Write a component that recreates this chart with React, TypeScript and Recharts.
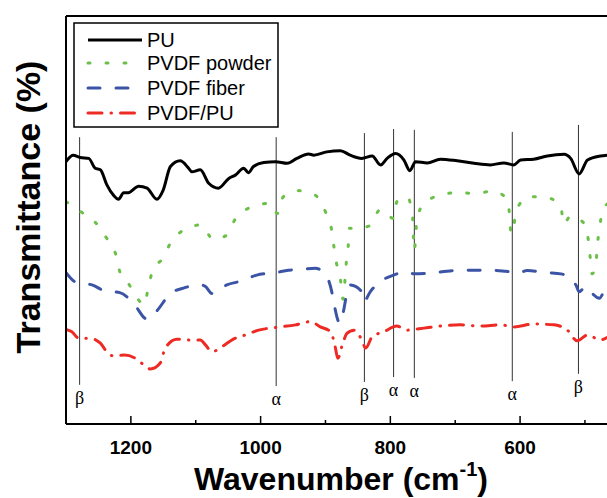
import React from 'react'
import { LineChart, Line, XAxis, YAxis, ReferenceLine, Legend } from 'recharts'

// wavenumber (cm-1) / transmittance (offset, a.u.) per sample
const puWn = [1300, 1289, 1278, 1265, 1255, 1247, 1237, 1227, 1219, 1211, 1204, 1188, 1175, 1160, 1150, 1139, 1124, 1111, 1106, 1093, 1080, 1065, 1049, 1039, 1026, 1019, 1011, 995, 977, 959, 944, 926, 918, 898, 877, 862, 844, 828, 815, 805, 792, 779, 770, 761, 743, 723, 697, 671, 646, 625, 610, 599, 579, 558, 532, 522, 509, 496, 476, 466]
const puT = [64.3, 65.9, 65.3, 65.1, 62.7, 62.3, 58.6, 56.1, 55.1, 56.7, 56.7, 58.3, 57.8, 55.1, 57.4, 63.1, 64.5, 62.7, 61.8, 62.3, 59.0, 57.8, 60.2, 61.0, 62.7, 61.6, 63.1, 64.1, 64.3, 63.9, 65.1, 66.2, 65.9, 66.7, 67.0, 65.9, 65.1, 65.7, 63.5, 65.1, 66.3, 64.7, 62.1, 64.3, 64.0, 64.9, 64.5, 63.9, 63.5, 64.0, 63.5, 64.7, 64.9, 65.7, 66.1, 65.1, 61.3, 64.7, 65.7, 65.9]

const powderWn = [1300, 1277, 1257, 1238, 1223, 1217, 1204, 1190, 1179, 1173, 1166, 1151, 1139, 1119, 1092, 1073, 1054, 1039, 1012, 985, 974, 965, 941, 916, 900, 891, 887, 883, 877, 873, 868, 865, 863, 851, 833, 815, 795, 790, 774, 766, 763, 759, 749, 723, 697, 669, 642, 620, 616, 614, 610, 607, 586, 559, 537, 533, 522, 502, 495, 492, 489, 483, 481, 478, 473, 466]
const powderT = [54.5, 52.0, 49.8, 45.7, 41.4, 37.3, 34.5, 30.8, 29.2, 33.7, 37.7, 40.6, 44.3, 47.5, 48.8, 45.3, 46.1, 50.2, 53.3, 54.1, 51.6, 55.7, 57.2, 56.1, 52.0, 48.0, 43.5, 39.4, 35.5, 30.6, 39.4, 43.5, 48.0, 48.0, 48.5, 52.6, 50.4, 54.5, 55.7, 51.2, 42.6, 50.0, 53.9, 56.1, 56.7, 56.5, 57.1, 55.1, 50.8, 46.7, 47.5, 52.0, 55.7, 55.5, 53.2, 49.0, 51.0, 49.3, 45.3, 41.0, 36.8, 39.2, 43.5, 47.5, 52.0, 53.9]

const fiberWn = [1300, 1283, 1260, 1240, 1217, 1196, 1175, 1168, 1158, 1139, 1119, 1093, 1085, 1075, 1052, 1031, 1006, 977, 957, 936, 916, 898, 890, 886, 878, 873, 867, 862, 846, 841, 831, 818, 795, 774, 764, 743, 702, 651, 615, 604, 589, 558, 537, 514, 509, 499, 488, 478, 471, 466]
const fiberT = [37.1, 34.6, 34.1, 32.6, 32.2, 29.6, 25.7, 26.3, 28.1, 32.0, 33.3, 34.1, 33.7, 32.0, 34.1, 35.0, 36.5, 37.1, 37.7, 37.9, 38.2, 36.1, 32.2, 28.8, 24.7, 27.1, 32.0, 34.1, 32.8, 30.0, 32.4, 34.6, 36.5, 37.3, 36.8, 36.9, 37.6, 37.7, 37.3, 36.9, 37.6, 37.1, 36.8, 34.1, 32.4, 33.7, 31.9, 30.8, 32.4, 34.0]

const blendWn = [1300, 1291, 1280, 1263, 1247, 1235, 1227, 1210, 1193, 1181, 1170, 1155, 1147, 1129, 1111, 1093, 1085, 1075, 1060, 1042, 1024, 1003, 975, 946, 923, 908, 892, 885, 881, 874, 867, 856, 844, 838, 828, 810, 790, 774, 764, 748, 723, 692, 661, 630, 610, 579, 548, 527, 512, 496, 476, 466]
const blendT = [23.2, 22.6, 21.0, 21.0, 19.8, 17.3, 16.7, 16.9, 16.1, 14.6, 13.5, 14.9, 18.6, 20.8, 20.6, 20.6, 19.4, 17.7, 18.9, 20.8, 21.8, 23.0, 23.7, 24.3, 25.1, 23.8, 22.6, 18.9, 16.1, 19.4, 22.2, 23.0, 20.6, 18.6, 21.4, 22.6, 24.0, 23.0, 23.2, 23.5, 24.0, 24.3, 24.0, 24.3, 23.8, 24.5, 24.3, 23.0, 20.4, 21.8, 20.6, 21.2]

// band assignments (vertical markers)
const bandWn = [1279, 976, 840, 795, 763, 612, 510]
const bandPhase = ['β', 'α', 'β', 'α', 'α', 'α', 'β']
const bandTop = [70.3, 70.3, 71.3, 72.3, 72.1, 71.6, 73.3]
const bandBottom = [9.6, 9.3, 10.3, 11.5, 11.3, 10.5, 12.3]

const xTicks = [1200, 1100, 1000, 900, 800, 700, 600, 500]

const zip = (wn: number[], t: number[]) => wn.map((w, i) => ({ wn: w, t: t[i] }))

const SERIES = [
  { name: 'PU', data: zip(puWn, puT), color: '#000000', dash: undefined as string | undefined },
  { name: 'PVDF powder', data: zip(powderWn, powderT), color: '#6cc04a', dash: '2 16' },
  { name: 'PVDF fiber', data: zip(fiberWn, fiberT), color: '#3b54a5', dash: '12 16' },
  { name: 'PVDF/PU', data: zip(blendWn, blendT), color: '#ee2a24', dash: '14 9 0.5 9' },
]

const sans = '"Liberation Sans", Arial, sans-serif'

function XTick({ x, y, payload }: any) {
  const v = payload.value
  const major = v % 200 === 0
  return (
    <g>
      <line x1={x} x2={x} y1={y} y2={y - (major ? 8 : 4)} stroke="#000" strokeWidth={1.5} />
      {major && (
        <text x={x} y={y + 30} textAnchor="middle" fontSize={19} fontWeight="bold" fontFamily={sans} fill="#000">{v}</text>
      )}
    </g>
  )
}

function LegendBox() {
  const rows = [18, 41, 66, 91]
  return (
    <svg width={206} height={106} style={{ display: 'block' }}>
      <rect x={1} y={1} width={204} height={104} fill="#fff" stroke="#000" strokeWidth={1.5} />
      {SERIES.map((s, i) => (
        <g key={s.name}>
          <line x1={15} x2={69} y1={rows[i]} y2={rows[i]} stroke={s.color} strokeWidth={3}
            strokeDasharray={s.dash} strokeLinecap={s.dash ? 'round' : 'butt'} />
          <text x={74} y={rows[i] + 7} fontSize={20} fontFamily={sans} fill="#000">{s.name}</text>
        </g>
      ))}
    </svg>
  )
}

export default function App() {
  return (
    <div style={{ position: 'absolute', left: 0, top: 0, width: 607, height: 498, background: '#fff', overflow: 'hidden' }}>
      <LineChart width={607} height={498} margin={{ top: 16, right: 0, left: 0, bottom: 0 }}>
        <XAxis
          dataKey="wn"
          type="number"
          domain={[466, 1300]}
          reversed
          allowDataOverflow
          ticks={xTicks}
          interval={0}
          height={74}
          tickSize={0}
          tickMargin={0}
          tickLine={false}
          tick={<XTick />}
          axisLine={{ stroke: '#000', strokeWidth: 2 }}
          label={{
            content: () => (
              <text x={341} y={490} textAnchor="middle" fontSize={32} fontWeight="bold" fontFamily={sans} fill="#000">
                Wavenumber (cm<tspan fontSize={20} dy={-14}>-1</tspan><tspan dy={14}>)</tspan>
              </text>
            ),
          }}
        />
        <YAxis
          type="number"
          domain={[0, 100]}
          width={66}
          tick={false}
          tickLine={false}
          axisLine={{ stroke: '#000', strokeWidth: 2 }}
          label={{
            content: () => (
              <text transform="translate(40,207) rotate(-90)" textAnchor="middle" fontSize={34} fontWeight="bold" fontFamily={sans} fill="#000">
                Transmittance (%)
              </text>
            ),
          }}
        />
        <ReferenceLine y={100} stroke="#000" strokeWidth={2} ifOverflow="extendDomain" />
        {bandWn.map((w, i) => (
          <ReferenceLine
            key={w}
            segment={[{ x: w, y: bandBottom[i] }, { x: w, y: bandTop[i] }]}
            stroke="#333"
            strokeWidth={1}
            label={{ value: bandPhase[i], position: 'bottom', offset: 6, fontSize: 18, fontFamily: '"Liberation Serif", serif', fill: '#000' }}
          />
        ))}
        {SERIES.map((s) => (
          <Line
            key={s.name}
            data={s.data}
            dataKey="t"
            name={s.name}
            type="monotone"
            stroke={s.color}
            strokeWidth={3}
            strokeDasharray={s.dash}
            strokeLinecap={s.dash ? 'round' : 'butt'}
            dot={false}
            activeDot={false}
            isAnimationActive={false}
          />
        ))}
        <Legend
          layout="horizontal"
          verticalAlign="middle"
          align="center"
          content={() => <LegendBox />}
          wrapperStyle={{ left: 73, top: 22, width: 206, height: 106 }}
        />
      </LineChart>
    </div>
  )
}
